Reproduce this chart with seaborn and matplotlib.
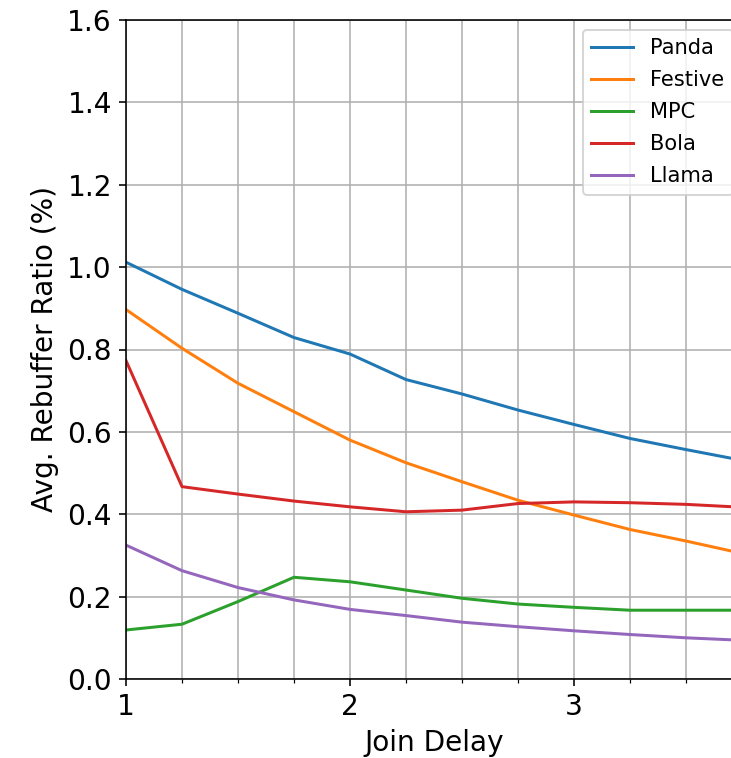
import numpy as np
import pandas as pd
import matplotlib
matplotlib.use('Agg')
import matplotlib.pyplot as plt
from matplotlib.ticker import MultipleLocator
import seaborn as sns

# Join delay values (x) and average rebuffer ratio per algorithm
join_delay = [1.0, 1.25, 1.5, 1.75, 2.0, 2.25, 2.5, 2.75, 3.0, 3.25, 3.5, 3.75]
panda = [1.012, 0.946, 0.888, 0.829, 0.789, 0.727, 0.692, 0.653, 0.618, 0.584, 0.557, 0.531]
festive = [0.897, 0.803, 0.718, 0.649, 0.580, 0.525, 0.479, 0.434, 0.398, 0.363, 0.335, 0.305]
mpc = [0.119, 0.133, 0.188, 0.247, 0.236, 0.216, 0.196, 0.182, 0.174, 0.167, 0.167, 0.167]
bola = [0.773, 0.467, 0.449, 0.432, 0.418, 0.406, 0.410, 0.426, 0.430, 0.428, 0.424, 0.417]
llama = [0.325, 0.263, 0.222, 0.192, 0.169, 0.154, 0.138, 0.127, 0.117, 0.108, 0.100, 0.094]

series = {'Panda': panda, 'Festive': festive, 'MPC': mpc, 'Bola': bola, 'Llama': llama}
rows = []
for name, vals in series.items():
    for x, v in zip(join_delay, vals):
        rows.append({'Join Delay': x, 'ratio': v, 'algo': name})
df = pd.DataFrame(rows)

dpi = 144
fig = plt.figure(figsize=(731 / dpi, 758 / dpi), dpi=dpi)
ax = fig.add_axes([126 / 731, 79 / 758, 616 / 731, 659 / 758])

sns.lineplot(data=df, x='Join Delay', y='ratio', hue='algo',
             palette=sns.color_palette('tab10', 5), linewidth=1.5, ax=ax)

ax.set_xlim(1, 3.75)
ax.set_ylim(0, 1.6)
ax.xaxis.set_major_locator(MultipleLocator(1))
ax.xaxis.set_minor_locator(MultipleLocator(0.25))
ax.yaxis.set_major_locator(MultipleLocator(0.2))
ax.grid(which='both', axis='x', color='#b0b0b0', linewidth=0.8)
ax.grid(which='major', axis='y', color='#b0b0b0', linewidth=0.8)
ax.tick_params(labelsize=14)
ax.set_xlabel('Join Delay', fontsize=14)
ax.set_ylabel('Avg. Rebuffer Ratio (%)', fontsize=14)

# legend sits partly outside the visible area, like the reference
handles, labels = ax.get_legend_handles_labels()
ax.legend(handles, labels, loc='upper left', fontsize=10.5, labelspacing=0.57,
          bbox_to_anchor=(583 / 731, 1 - 30 / 758),
          bbox_transform=fig.transFigure, borderaxespad=0)

fig.savefig('out.png', dpi=dpi)
